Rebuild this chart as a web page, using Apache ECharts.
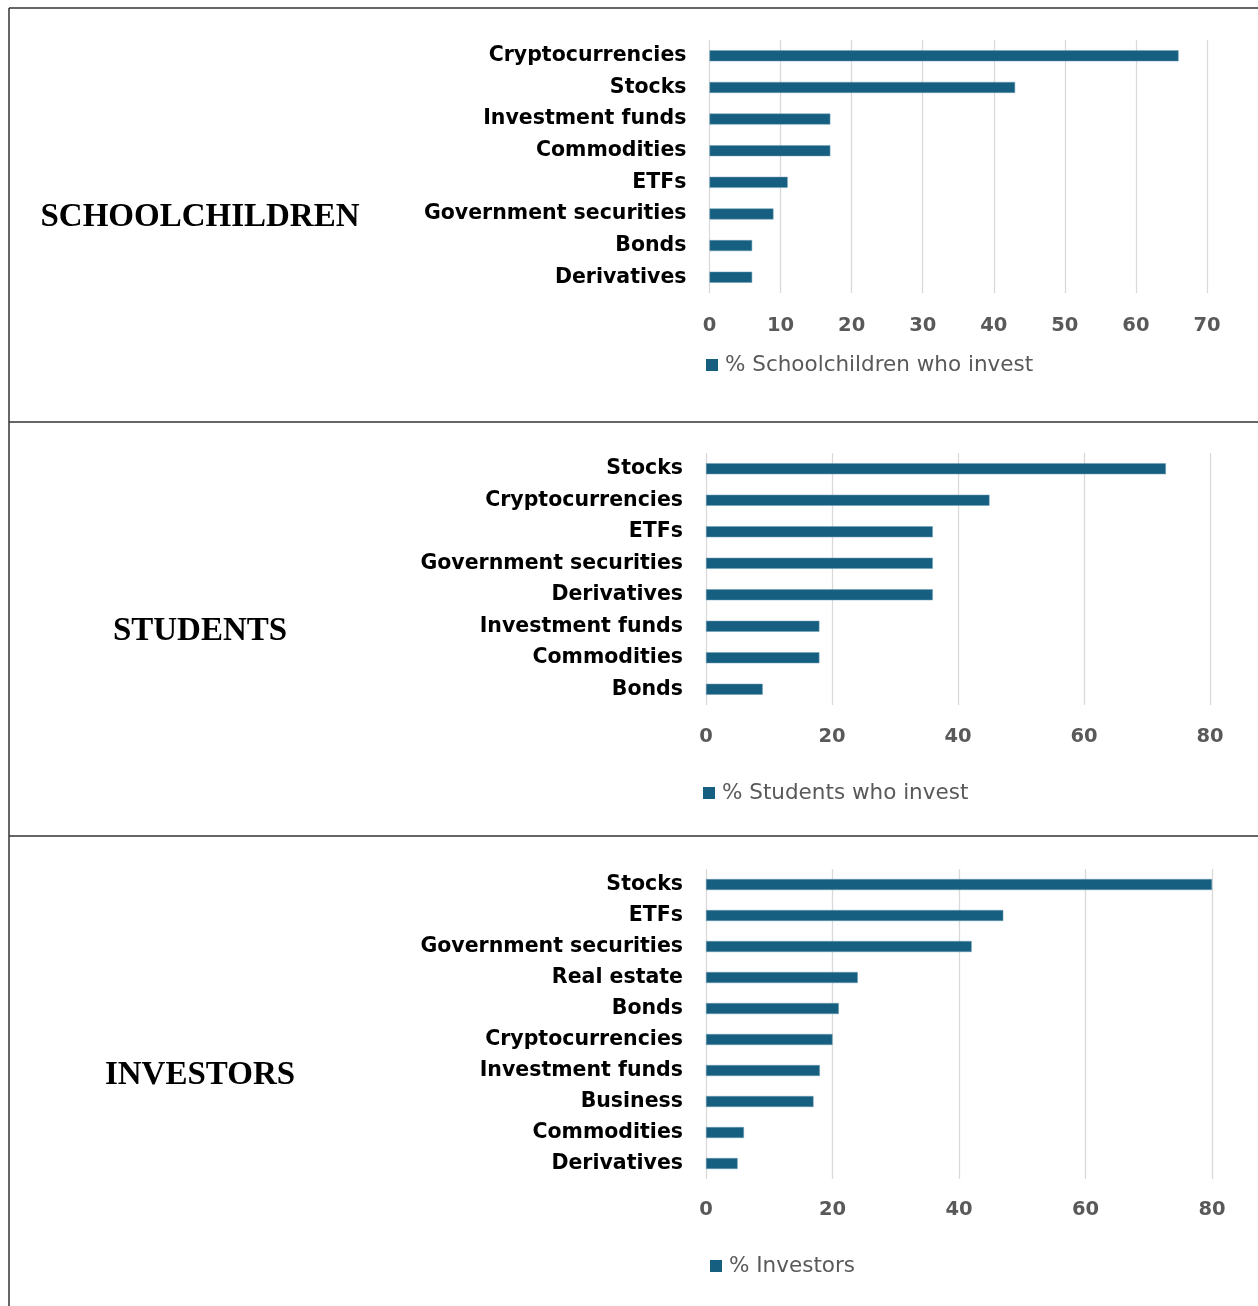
<!DOCTYPE html>
<html>
<head>
<meta charset="utf-8">
<script src="https://cdn.jsdelivr.net/npm/echarts@6/dist/echarts.min.js"></script>
<style>
html,body{margin:0;padding:0;background:#fff;}
#c{width:1258px;height:1306px;}
</style>
</head>
<body>
<div id="c"></div>
<script>
const rowTitles = ['SCHOOLCHILDREN', 'STUDENTS', 'INVESTORS'];

const schoolCats = ['Cryptocurrencies','Stocks','Investment funds','Commodities','ETFs','Government securities','Bonds','Derivatives'];
const schoolVals = [66, 43, 17, 17, 11, 9, 6, 6];
const schoolName = '% Schoolchildren who invest';
const schoolTicks = {min: 0, max: 70, interval: 10};

const studentCats = ['Stocks','Cryptocurrencies','ETFs','Government securities','Derivatives','Investment funds','Commodities','Bonds'];
const studentVals = [73, 45, 36, 36, 36, 18, 18, 9];
const studentName = '% Students who invest';
const studentTicks = {min: 0, max: 80, interval: 20};

const investorCats = ['Stocks','ETFs','Government securities','Real estate','Bonds','Cryptocurrencies','Investment funds','Business','Commodities','Derivatives'];
const investorVals = [80, 47, 42, 24, 21, 20, 18, 17, 6, 5];
const investorName = '% Investors';
const investorTicks = {min: 0, max: 80, interval: 20};

const BAR = '#165f80';
const SANS = '"DejaVu Sans", "Open Sans", sans-serif';

const panels = [
  {cats: schoolCats, vals: schoolVals, name: schoolName, ticks: schoolTicks,
   grid: {left: 709.5, top: 40, width: 497.5, height: 253}, labelMargin: 23,
   legend: {left: 706, top: 354}, titleY: 217},
  {cats: studentCats, vals: studentVals, name: studentName, ticks: studentTicks,
   grid: {left: 706, top: 453, width: 504, height: 252}, labelMargin: 22,
   legend: {left: 703, top: 782}, titleY: 631},
  {cats: investorCats, vals: investorVals, name: investorName, ticks: investorTicks,
   grid: {left: 706, top: 869, width: 506, height: 310}, labelMargin: 21,
   legend: {left: 710, top: 1255}, titleY: 1075}
];

const chart = echarts.init(document.getElementById('c'), null, {renderer: 'canvas'});

const option = {
  animation: false,
  backgroundColor: '#fff',
  grid: panels.map(p => Object.assign({containLabel: false}, p.grid)),
  xAxis: panels.map((p, i) => ({
    type: 'value', gridIndex: i,
    min: p.ticks.min, max: p.ticks.max, interval: p.ticks.interval,
    axisLine: {show: false}, axisTick: {show: false},
    splitLine: {show: true, lineStyle: {color: '#d9d9d9', width: 1.3}},
    axisLabel: {color: '#595959', fontFamily: SANS, fontWeight: 'bold', fontSize: 19.5, margin: p.labelMargin}
  })),
  yAxis: panels.map((p, i) => ({
    type: 'category', gridIndex: i, data: p.cats, inverse: true,
    axisLine: {show: false}, axisTick: {show: false},
    axisLabel: {color: '#000', fontFamily: SANS, fontWeight: 'bold', fontSize: 20.5, margin: 23}
  })),
  legend: panels.map((p, i) => ({
    data: [p.name], left: p.legend.left, top: p.legend.top, padding: 0,
    icon: 'rect', itemWidth: 12, itemHeight: 12, itemGap: 0,
    itemStyle: {borderWidth: 0},
    textStyle: {color: '#595959', fontFamily: SANS, fontSize: 21.5, padding: [0, 0, 0, 2]},
    selectedMode: false
  })),
  series: panels.map((p, i) => ({
    type: 'bar', name: p.name, xAxisIndex: i, yAxisIndex: i,
    data: p.vals, barWidth: 11,
    itemStyle: {color: BAR, borderColor: '#6f9fb5', borderWidth: 0.5}
  })),
  graphic: [
    {type: 'line', shape: {x1: 9, y1: 8, x2: 1258, y2: 8}, style: {stroke: '#333', lineWidth: 1.5}},
    {type: 'line', shape: {x1: 9, y1: 8, x2: 9, y2: 1306}, style: {stroke: '#333', lineWidth: 1.5}},
    {type: 'line', shape: {x1: 9, y1: 422, x2: 1258, y2: 422}, style: {stroke: '#333', lineWidth: 1.5}},
    {type: 'line', shape: {x1: 9, y1: 836, x2: 1258, y2: 836}, style: {stroke: '#333', lineWidth: 1.5}}
  ].concat(panels.map((p, i) => ({
    type: 'text', x: 200, y: p.titleY,
    style: {text: rowTitles[i], fill: '#000', font: 'bold 33px "Liberation Serif", "Times New Roman", serif',
            textAlign: 'center', textVerticalAlign: 'middle'}
  })))
};
chart.setOption(option);
</script>
</body>
</html>
